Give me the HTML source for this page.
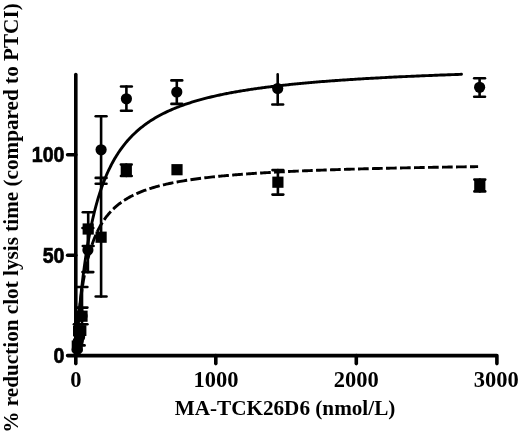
<!DOCTYPE html>
<html><head><meta charset="utf-8"><style>
html,body{margin:0;padding:0;background:#fff;}
svg{display:block;}
text{font-weight:bold;fill:#000;}
.serif{font-family:"Liberation Serif","Times New Roman",serif;}
.sans{font-family:"Liberation Sans",Arial,sans-serif;}
</style></head><body>
<svg width="520" height="434" viewBox="0 0 520 434">
<g fill="none" stroke="#000" stroke-width="2.9">
<path d="M75.70 355.60 L75.78 354.58 L75.85 353.54 L75.94 352.38 L76.01 351.33 L76.11 350.08 L76.19 348.92 L76.29 347.62 L76.37 346.54 L76.45 345.38 L76.55 344.13 L76.65 342.78 L76.76 341.35 L76.84 340.34 L76.92 339.29 L77.00 338.19 L77.09 337.06 L77.18 335.88 L77.28 334.66 L77.38 333.40 L77.49 332.10 L77.60 330.75 L77.71 329.37 L77.83 327.94 L77.95 326.48 L78.08 324.97 L78.21 323.42 L78.35 321.84 L78.49 320.21 L78.63 318.55 L78.79 316.85 L78.94 315.12 L79.11 313.35 L79.27 311.54 L79.45 309.71 L79.62 307.84 L79.81 305.94 L80.00 304.01 L80.19 302.05 L80.39 300.07 L80.50 299.07 L80.60 298.06 L80.71 297.04 L80.81 296.02 L80.92 294.99 L81.03 293.96 L81.15 292.92 L81.26 291.88 L81.37 290.83 L81.49 289.77 L81.61 288.71 L81.73 287.65 L81.85 286.58 L81.97 285.51 L82.10 284.43 L82.22 283.35 L82.35 282.26 L82.48 281.17 L82.61 280.08 L82.74 278.98 L82.88 277.88 L83.02 276.78 L83.15 275.67 L83.29 274.56 L83.44 273.45 L83.58 272.34 L83.72 271.22 L83.87 270.11 L84.02 268.99 L84.17 267.86 L84.32 266.74 L84.48 265.62 L84.63 264.49 L84.79 263.36 L84.95 262.24 L85.11 261.11 L85.27 259.98 L85.44 258.85 L85.60 257.72 L85.77 256.59 L85.94 255.46 L86.12 254.33 L86.29 253.20 L86.47 252.07 L86.65 250.94 L86.83 249.81 L87.01 248.68 L87.19 247.56 L87.38 246.43 L87.57 245.31 L87.76 244.18 L87.95 243.06 L88.15 241.94 L88.34 240.82 L88.54 239.71 L88.74 238.59 L88.94 237.48 L89.15 236.37 L89.36 235.27 L89.56 234.16 L89.78 233.06 L89.99 231.96 L90.20 230.86 L90.42 229.77 L90.64 228.68 L90.86 227.59 L91.09 226.50 L91.31 225.42 L91.54 224.35 L91.77 223.27 L92.01 222.20 L92.24 221.13 L92.48 220.07 L92.72 219.01 L92.96 217.95 L93.20 216.90 L93.45 215.85 L93.70 214.81 L93.95 213.77 L94.20 212.73 L94.46 211.70 L94.72 210.67 L94.98 209.65 L95.24 208.63 L95.51 207.62 L95.77 206.61 L96.04 205.61 L96.32 204.61 L96.59 203.61 L96.87 202.62 L97.15 201.64 L97.43 200.66 L97.72 199.68 L98.00 198.71 L98.29 197.75 L98.59 196.79 L99.18 194.88 L99.78 193.00 L100.39 191.13 L101.01 189.29 L101.65 187.47 L102.29 185.66 L102.94 183.88 L103.61 182.13 L104.28 180.39 L104.97 178.67 L105.67 176.98 L106.37 175.31 L107.09 173.66 L107.82 172.03 L108.56 170.42 L109.32 168.84 L110.08 167.27 L110.86 165.73 L111.64 164.21 L112.44 162.71 L113.25 161.23 L114.07 159.78 L114.91 158.34 L115.75 156.92 L116.61 155.53 L117.48 154.15 L118.37 152.80 L119.26 151.46 L120.17 150.15 L121.09 148.85 L122.02 147.58 L122.97 146.32 L123.93 145.08 L124.90 143.87 L125.88 142.67 L126.88 141.49 L127.89 140.32 L128.91 139.18 L129.95 138.05 L131.00 136.94 L132.06 135.85 L133.14 134.78 L134.23 133.72 L135.33 132.68 L136.45 131.65 L137.58 130.64 L138.73 129.65 L139.89 128.68 L141.06 127.71 L142.25 126.77 L143.45 125.84 L144.67 124.92 L145.90 124.02 L147.15 123.14 L148.41 122.26 L149.68 121.41 L150.97 120.56 L152.28 119.73 L153.60 118.91 L154.94 118.11 L156.29 117.32 L157.65 116.54 L159.03 115.77 L160.43 115.02 L161.84 114.28 L163.27 113.55 L164.71 112.83 L166.17 112.12 L167.65 111.43 L169.14 110.74 L170.64 110.07 L172.17 109.41 L173.71 108.76 L175.26 108.11 L176.84 107.48 L178.42 106.86 L180.03 106.25 L181.65 105.65 L183.29 105.06 L184.94 104.48 L186.62 103.90 L188.31 103.34 L190.01 102.78 L191.73 102.24 L193.47 101.70 L195.23 101.17 L197.01 100.65 L198.80 100.14 L200.61 99.63 L202.44 99.14 L204.28 98.65 L206.15 98.17 L208.03 97.69 L209.93 97.23 L211.85 96.77 L213.78 96.32 L215.74 95.87 L216.72 95.65 L217.71 95.43 L218.70 95.22 L219.70 95.00 L220.70 94.79 L221.71 94.58 L222.72 94.37 L223.74 94.16 L224.76 93.95 L225.78 93.75 L226.81 93.54 L227.85 93.34 L228.89 93.14 L229.93 92.94 L230.98 92.74 L232.04 92.55 L233.09 92.35 L234.16 92.16 L235.23 91.97 L236.30 91.78 L237.38 91.59 L238.46 91.40 L239.55 91.22 L240.64 91.03 L241.74 90.85 L242.84 90.67 L243.95 90.49 L245.06 90.31 L246.17 90.13 L247.30 89.96 L248.42 89.78 L249.55 89.61 L250.69 89.44 L251.83 89.27 L252.98 89.10 L254.13 88.93 L255.28 88.76 L256.44 88.60 L257.61 88.43 L258.78 88.27 L259.96 88.11 L261.14 87.94 L262.33 87.79 L263.52 87.63 L264.71 87.47 L265.91 87.31 L267.12 87.16 L268.33 87.00 L269.55 86.85 L270.77 86.70 L272.00 86.55 L273.23 86.40 L274.47 86.25 L275.71 86.10 L276.96 85.96 L278.21 85.81 L279.47 85.67 L280.73 85.53 L282.00 85.38 L283.27 85.24 L284.55 85.10 L285.83 84.96 L287.12 84.83 L288.42 84.69 L289.72 84.55 L291.02 84.42 L292.33 84.28 L293.65 84.15 L294.97 84.02 L296.30 83.89 L297.63 83.76 L298.96 83.63 L300.31 83.50 L301.65 83.37 L303.01 83.25 L304.37 83.12 L305.73 83.00 L307.10 82.87 L308.47 82.75 L309.85 82.63 L311.24 82.51 L312.63 82.39 L314.03 82.27 L315.43 82.15 L316.84 82.03 L318.25 81.91 L319.67 81.80 L321.09 81.68 L322.52 81.57 L323.95 81.45 L325.40 81.34 L326.84 81.23 L328.29 81.12 L329.75 81.01 L331.21 80.90 L332.68 80.79 L334.16 80.68 L335.64 80.57 L337.12 80.47 L338.61 80.36 L340.11 80.25 L341.61 80.15 L343.12 80.05 L344.63 79.94 L346.15 79.84 L347.68 79.74 L349.21 79.64 L350.74 79.54 L352.29 79.44 L353.83 79.34 L355.39 79.24 L356.95 79.14 L358.51 79.04 L360.08 78.95 L361.66 78.85 L363.24 78.76 L364.83 78.66 L366.43 78.57 L368.03 78.48 L369.63 78.38 L371.25 78.29 L372.86 78.20 L374.49 78.11 L376.12 78.02 L377.75 77.93 L379.40 77.84 L381.04 77.75 L382.70 77.67 L384.36 77.58 L386.02 77.49 L387.69 77.41 L389.37 77.32 L391.05 77.24 L392.74 77.15 L394.44 77.07 L396.14 76.98 L397.85 76.90 L399.56 76.82 L401.28 76.74 L403.01 76.66 L404.74 76.58 L406.48 76.50 L408.22 76.42 L409.97 76.34 L411.73 76.26 L413.49 76.18 L415.26 76.11 L417.03 76.03 L418.81 75.95 L420.60 75.88 L422.39 75.80 L424.19 75.73 L426.00 75.65 L427.81 75.58 L429.63 75.50 L431.45 75.43 L433.28 75.36 L435.12 75.29 L436.96 75.22 L438.81 75.14 L440.67 75.07 L442.53 75.00 L444.40 74.93 L446.27 74.86 L448.15 74.80 L450.04 74.73 L451.94 74.66 L453.84 74.59 L455.74 74.52 L457.65 74.46 L459.57 74.39 L461.50 74.32" stroke-linecap="round"/>
<path d="M75.70 355.60 L75.77 354.55 L75.84 353.45 L75.91 352.40 L75.98 351.32 L76.05 350.31 L76.12 349.15 L76.21 347.85 L76.29 346.78 L76.37 345.62 L76.45 344.38 L76.55 343.05 L76.65 341.64 L76.77 340.14 L76.84 339.09 L76.93 338.00 L77.01 336.88 L77.10 335.72 L77.20 334.53 L77.30 333.30 L77.40 332.03 L77.51 330.74 L77.62 329.40 L77.74 328.04 L77.86 326.65 L77.98 325.23 L78.11 323.77 L78.25 322.29 L78.39 320.79 L78.53 319.26 L78.68 317.71 L78.84 316.13 L79.00 314.53 L79.17 312.92 L79.34 311.28 L79.52 309.63 L79.70 307.96 L79.89 306.28 L80.08 304.59 L80.28 302.89 L80.49 301.17 L80.70 299.45 L80.92 297.72 L81.15 295.99 L81.38 294.25 L81.62 292.51 L81.86 290.77 L82.11 289.03 L82.37 287.29 L82.64 285.55 L82.91 283.82 L83.19 282.09 L83.47 280.36 L83.77 278.65 L84.07 276.94 L84.38 275.24 L84.69 273.54 L85.02 271.86 L85.35 270.19 L85.68 268.54 L86.03 266.89 L86.38 265.26 L86.75 263.65 L87.12 262.04 L87.50 260.46 L87.88 258.89 L88.28 257.33 L88.68 255.80 L89.09 254.28 L89.51 252.77 L89.94 251.29 L90.38 249.82 L90.83 248.37 L91.28 246.95 L91.75 245.54 L92.22 244.14 L92.71 242.77 L93.20 241.42 L93.70 240.08 L94.21 238.77 L94.74 237.47 L95.27 236.20 L95.81 234.94 L96.36 233.71 L96.92 232.49 L97.49 231.29 L98.07 230.11 L98.66 228.95 L99.27 227.81 L99.88 226.69 L100.50 225.58 L101.13 224.50 L101.78 223.43 L102.43 222.38 L103.10 221.35 L103.77 220.34 L104.46 219.34 L105.16 218.37 L105.87 217.41 L106.59 216.46 L107.32 215.54 L108.07 214.63 L108.82 213.73 L109.59 212.85 L110.37 211.99 L111.16 211.15 L111.96 210.31 L112.78 209.50 L113.60 208.70 L114.44 207.91 L115.30 207.14 L116.16 206.38 L117.04 205.64 L117.92 204.91 L118.83 204.19 L119.74 203.49 L120.67 202.80 L121.61 202.12 L122.56 201.46 L123.53 200.80 L124.51 200.16 L125.50 199.54 L126.50 198.92 L127.52 198.31 L128.56 197.72 L129.60 197.14 L130.66 196.57 L131.74 196.00 L132.83 195.45 L133.93 194.91 L135.04 194.38 L136.18 193.86 L137.32 193.35 L138.48 192.85 L139.65 192.36 L140.84 191.87 L142.04 191.40 L143.26 190.93 L144.49 190.47 L145.74 190.03 L147.00 189.59 L148.28 189.15 L149.57 188.73 L150.88 188.31 L152.20 187.90 L153.54 187.50 L154.89 187.11 L156.26 186.72 L157.65 186.34 L159.05 185.97 L160.46 185.60 L161.90 185.24 L163.34 184.88 L164.81 184.54 L166.29 184.20 L167.79 183.86 L169.30 183.53 L170.83 183.21 L172.38 182.89 L173.94 182.58 L175.52 182.27 L177.12 181.97 L178.73 181.68 L180.36 181.38 L182.01 181.10 L183.68 180.82 L185.36 180.54 L187.06 180.27 L188.78 180.01 L190.51 179.74 L192.27 179.49 L194.04 179.23 L195.83 178.99 L197.63 178.74 L199.46 178.50 L201.30 178.26 L203.16 178.03 L205.04 177.80 L206.94 177.58 L208.85 177.36 L210.79 177.14 L212.74 176.93 L214.71 176.72 L216.70 176.51 L217.70 176.41 L218.71 176.31 L219.72 176.21 L220.74 176.11 L221.76 176.01 L222.79 175.91 L223.82 175.82 L224.85 175.72 L225.89 175.63 L226.94 175.53 L227.99 175.44 L229.05 175.34 L230.11 175.25 L231.17 175.16 L232.24 175.07 L233.32 174.98 L234.39 174.89 L235.48 174.80 L236.57 174.71 L237.66 174.63 L238.76 174.54 L239.87 174.45 L240.98 174.37 L242.09 174.28 L243.21 174.20 L244.33 174.12 L245.46 174.04 L246.60 173.95 L247.74 173.87 L248.88 173.79 L250.03 173.71 L251.18 173.63 L252.34 173.55 L253.51 173.48 L254.68 173.40 L255.85 173.32 L257.03 173.25 L258.22 173.17 L259.41 173.10 L260.60 173.02 L261.81 172.95 L263.01 172.87 L264.22 172.80 L265.44 172.73 L266.66 172.66 L267.89 172.59 L269.12 172.52 L270.36 172.45 L271.60 172.38 L272.85 172.31 L274.10 172.24 L275.36 172.17 L276.62 172.11 L277.89 172.04 L279.16 171.97 L280.44 171.91 L281.73 171.84 L283.02 171.78 L284.31 171.71 L285.62 171.65 L286.92 171.59 L288.23 171.52 L289.55 171.46 L290.87 171.40 L292.20 171.34 L293.54 171.28 L294.88 171.22 L296.22 171.16 L297.57 171.10 L298.93 171.04 L300.29 170.98 L301.65 170.92 L303.03 170.86 L304.40 170.80 L305.79 170.75 L307.18 170.69 L308.57 170.64 L309.97 170.58 L311.38 170.52 L312.79 170.47 L314.20 170.42 L315.63 170.36 L317.05 170.31 L318.49 170.25 L319.93 170.20 L321.37 170.15 L322.82 170.10 L324.28 170.04 L325.74 169.99 L327.21 169.94 L328.68 169.89 L330.16 169.84 L331.65 169.79 L333.14 169.74 L334.64 169.69 L336.14 169.64 L337.65 169.60 L339.16 169.55 L340.68 169.50 L342.21 169.45 L343.74 169.40 L345.28 169.36 L346.82 169.31 L348.37 169.27 L349.92 169.22 L351.49 169.17 L353.05 169.13 L354.63 169.08 L356.20 169.04 L357.79 169.00 L359.38 168.95 L360.98 168.91 L362.58 168.86 L364.19 168.82 L365.80 168.78 L367.42 168.74 L369.05 168.69 L370.68 168.65 L372.32 168.61 L373.97 168.57 L375.62 168.53 L377.27 168.49 L378.94 168.45 L380.61 168.41 L382.28 168.37 L383.96 168.33 L385.65 168.29 L387.34 168.25 L389.04 168.21 L390.75 168.17 L392.46 168.13 L394.18 168.10 L395.91 168.06 L397.64 168.02 L399.37 167.98 L401.12 167.95 L402.87 167.91 L404.62 167.87 L406.38 167.84 L408.15 167.80 L409.93 167.77 L411.71 167.73 L413.50 167.70 L415.29 167.66 L417.09 167.63 L418.90 167.59 L420.71 167.56 L422.53 167.52 L424.35 167.49 L426.18 167.46 L428.02 167.42 L429.87 167.39 L431.72 167.36 L433.58 167.32 L435.44 167.29 L437.31 167.26 L439.19 167.23 L441.07 167.19 L442.96 167.16 L444.86 167.13 L446.76 167.10 L448.67 167.07 L450.58 167.04 L452.51 167.01 L454.44 166.98 L456.37 166.95 L458.31 166.92 L460.26 166.89 L462.22 166.86 L464.18 166.83 L466.15 166.80 L468.12 166.77 L470.11 166.74 L472.09 166.71 L474.09 166.68 L476.09 166.65 L478.10 166.63" stroke-dasharray="10.70 3.30" stroke-dashoffset="13.84"/>
</g>
<g stroke="#000" stroke-width="2.6" stroke-linecap="round">
<line x1="479.60" y1="78.30" x2="479.60" y2="96.70"/><line x1="474.20" y1="78.30" x2="485.00" y2="78.30"/><line x1="474.20" y1="96.70" x2="485.00" y2="96.70"/>
<line x1="277.70" y1="74.40" x2="277.70" y2="104.50"/><line x1="272.30" y1="104.50" x2="283.10" y2="104.50"/>
<line x1="176.80" y1="80.40" x2="176.80" y2="103.90"/><line x1="171.40" y1="80.40" x2="182.20" y2="80.40"/><line x1="171.40" y1="103.90" x2="182.20" y2="103.90"/>
<line x1="126.40" y1="86.50" x2="126.40" y2="110.80"/><line x1="121.00" y1="86.50" x2="131.80" y2="86.50"/><line x1="121.00" y1="110.80" x2="131.80" y2="110.80"/>
<line x1="101.10" y1="116.20" x2="101.10" y2="183.80"/><line x1="95.70" y1="116.20" x2="106.50" y2="116.20"/><line x1="95.70" y1="183.80" x2="106.50" y2="183.80"/>
<line x1="87.90" y1="228.00" x2="87.90" y2="272.10"/><line x1="82.50" y1="228.00" x2="93.30" y2="228.00"/><line x1="82.50" y1="272.10" x2="93.30" y2="272.10"/>
<line x1="479.80" y1="179.60" x2="479.80" y2="191.40"/><line x1="474.40" y1="179.60" x2="485.20" y2="179.60"/><line x1="474.40" y1="191.40" x2="485.20" y2="191.40"/>
<line x1="277.90" y1="170.10" x2="277.90" y2="194.60"/><line x1="272.50" y1="170.10" x2="283.30" y2="170.10"/><line x1="272.50" y1="194.60" x2="283.30" y2="194.60"/>
<line x1="126.30" y1="164.50" x2="126.30" y2="176.00"/><line x1="120.90" y1="164.50" x2="131.70" y2="164.50"/><line x1="120.90" y1="176.00" x2="131.70" y2="176.00"/>
<line x1="101.10" y1="177.90" x2="101.10" y2="296.50"/><line x1="95.70" y1="177.90" x2="106.50" y2="177.90"/><line x1="95.70" y1="296.50" x2="106.50" y2="296.50"/>
<line x1="88.20" y1="212.30" x2="88.20" y2="246.00"/><line x1="82.80" y1="212.30" x2="93.60" y2="212.30"/><line x1="82.80" y1="246.00" x2="93.60" y2="246.00"/>
<line x1="82.00" y1="287.00" x2="82.00" y2="316.00"/><line x1="76.60" y1="287.00" x2="87.40" y2="287.00"/>
<line x1="82.00" y1="307.60" x2="82.00" y2="324.20"/><line x1="76.60" y1="307.60" x2="87.40" y2="307.60"/><line x1="76.60" y1="324.20" x2="87.40" y2="324.20"/>
<line x1="73.90" y1="324.20" x2="84.70" y2="324.20"/>
<line x1="73.80" y1="345.40" x2="84.60" y2="345.40"/>
</g>
<g fill="#000">
<circle cx="479.60" cy="87.30" r="5.60"/>
<circle cx="277.70" cy="88.50" r="5.60"/>
<circle cx="176.80" cy="92.00" r="5.60"/>
<circle cx="126.40" cy="98.80" r="5.60"/>
<circle cx="101.10" cy="149.80" r="5.60"/>
<circle cx="87.90" cy="250.00" r="5.60"/>
<rect x="474.20" y="179.90" width="11.20" height="11.20"/>
<rect x="272.30" y="176.60" width="11.20" height="11.20"/>
<rect x="120.70" y="164.60" width="11.20" height="11.20"/>
<rect x="95.50" y="231.60" width="11.20" height="11.20"/>
<rect x="82.60" y="223.40" width="11.20" height="11.20"/>
<rect x="171.40" y="164.10" width="11.20" height="11.20"/>
<circle cx="82.00" cy="316.00" r="5.60"/>
<rect x="76.40" y="310.60" width="11.20" height="11.20"/>
<rect x="75.60" y="325.20" width="10.80" height="10.80"/>
<rect x="73.00" y="325.60" width="10.80" height="10.80"/>
<circle cx="79.60" cy="337.00" r="5.60"/>
<circle cx="78.20" cy="341.50" r="5.60"/>
<rect x="71.70" y="340.50" width="11.00" height="11.00"/>
<circle cx="77.20" cy="349.40" r="5.60"/>
</g>
<g fill="none" stroke="#000" stroke-width="3.6" stroke-linecap="round" stroke-linejoin="round">
<path d="M75.8 74.5 V363.6"/>
<path d="M67.6 355.6 H496.9 V363.6"/>
<path d="M215.8 355.6 V363.6"/>
<path d="M356.3 355.6 V363.6"/>
<path d="M67.6 154.8 H75.8"/>
<path d="M67.6 255.2 H75.8"/>
</g>
<g class="sans" font-size="22" text-anchor="end" stroke="#000" stroke-width="0.7">
<text transform="translate(64.5 162) scale(0.89 1)">100</text>
<text transform="translate(64.5 262.5) scale(0.89 1)">50</text>
<text transform="translate(64.5 362.5) scale(0.89 1)">0</text>
</g>
<g class="serif" font-size="22.5" text-anchor="middle">
<text x="75.9" y="386.6">0</text>
<text x="215.9" y="386.6">1000</text>
<text x="356.3" y="386.6">2000</text>
<text x="496.3" y="386.6">3000</text>
</g>
<text class="serif" font-size="21.2" x="285" y="415.3" text-anchor="middle">MA-TCK26D6 (nmol/L)</text>
<text class="serif" font-size="21.2" transform="translate(17.9 218) rotate(-90)" text-anchor="middle">% reduction clot lysis time (compared to PTCI)</text>
</svg>
</body></html>
